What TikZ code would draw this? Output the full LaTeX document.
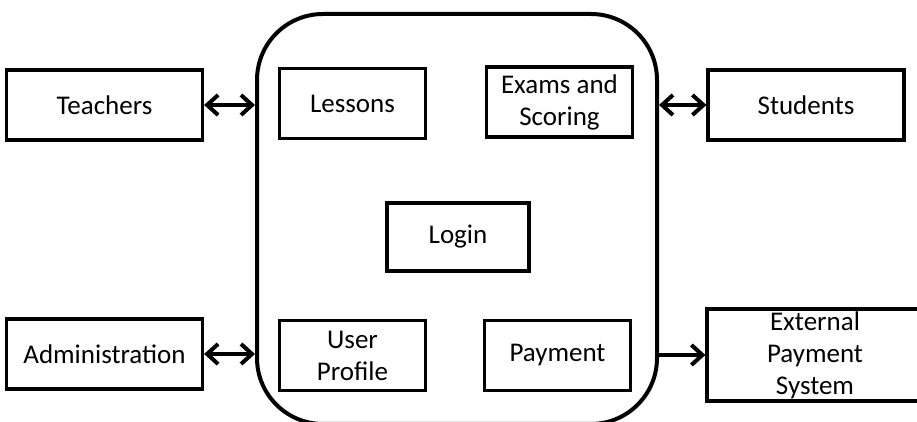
\documentclass[tikz,border=0pt]{standalone}
\usepackage{fontspec}
\setmainfont{Carlito}
\usetikzlibrary{arrows.meta}

\begin{document}
\begin{tikzpicture}[x=0.5pt,y=-0.5pt,
  box/.style={draw,line width=1.6pt,align=center,inner sep=0pt,minimum width=73pt,minimum height=35pt,font=\fontsize{13.5}{16}\selectfont},
  actor/.style={box,minimum width=98pt},
  barb/.tip={Straight Barb[length=5.5pt,width=10pt]},
  link/.style={line width=2pt}]
\useasboundingbox (0,0) rectangle (917,422);
% the system, its lower edge runs off the page
\node[draw,line width=2pt,rounded corners=33pt,minimum width=200pt,minimum height=205pt,inner sep=0pt] (sys) at (457,219) {};
% parts inside the system
\node[box] (lessons) at (352.5,103.5) {Lessons};
\node[box] (exams) at (559.5,102) {Exams and\\Scoring};
\node[box,minimum width=71pt,minimum height=34pt] (login) at (458,237) {Login};
\node[box] (profile) at (352.5,355.5) {User\\Profile};
\node[box] (payment) at (557.5,355.5) {Payment};
% outside the system
\node[actor] (teachers) at (104.5,105) {Teachers};
\node[actor] (admin) at (104.5,354) {Administration};
\node[actor] (students) at (806,105) {Students};
% its right side runs off the page
\node[actor,minimum width=108pt,minimum height=46pt] (extpay) at (815,355) {External\\Payment\\System};
% links
\draw[link,barb-barb] (teachers.east) -- (teachers.east -| sys.west);
\draw[link,barb-barb] (admin.east) -- (admin.east -| sys.west);
\draw[link,barb-barb] (students.west -| sys.east) -- (students.west);
\draw[link,-barb] (extpay.west -| sys.east) -- (extpay.west);
\end{tikzpicture}
\end{document}
